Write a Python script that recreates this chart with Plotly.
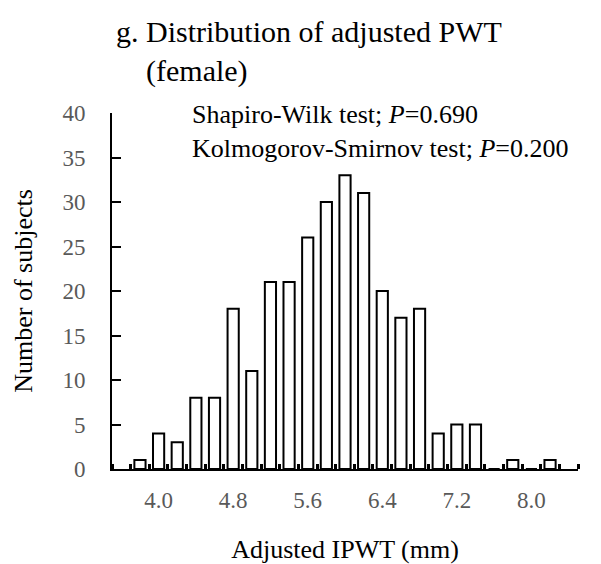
import plotly.graph_objects as go

# Data
bin_centers = [3.8, 4.0, 4.2, 4.4, 4.6, 4.8, 5.0, 5.2, 5.4, 5.6, 5.8, 6.0,
               6.2, 6.4, 6.6, 6.8, 7.0, 7.2, 7.4, 7.6, 7.8, 8.0, 8.2]
counts = [1, 4, 3, 8, 8, 18, 11, 21, 21, 26, 30, 33,
          31, 20, 17, 18, 4, 5, 5, 0, 1, 0, 1]
x_tick_vals = [4.0, 4.8, 5.6, 6.4, 7.2, 8.0]
x_tick_text = ["4.0", "4.8", "5.6", "6.4", "7.2", "8.0"]
y_tick_vals = [0, 5, 10, 15, 20, 25, 30, 35, 40]

FONT = "Liberation Serif, Times New Roman, serif"
W, H = 601, 564
L, R, T, B = 112, 23, 113, 95

fig = go.Figure()
fig.add_trace(go.Bar(
    x=bin_centers, y=counts,
    marker=dict(color="white", line=dict(color="black", width=2)),
    showlegend=False,
))

fig.update_layout(
    width=W, height=H,
    margin=dict(l=L, r=R, t=T, b=B, pad=0, autoexpand=False),
    paper_bgcolor="white", plot_bgcolor="white",
    bargap=0.4,
    font=dict(family=FONT, color="black"),
    title=dict(
        text="g. Distribution of adjusted PWT<br>\u00a0\u00a0\u00a0\u00a0(female)",
        font=dict(family=FONT, size=30, color="black"),
        x=116 / W, xref="container", xanchor="left",
        y=1 - 42 / H, yref="container", yanchor="top",
    ),
    xaxis=dict(
        range=[3.5, 8.5], automargin=False,
        tickmode="array", tickvals=x_tick_vals, ticktext=x_tick_text,
        ticks="", showgrid=False, zeroline=False,
        showline=True, linecolor="black", linewidth=2,
        tickfont=dict(family=FONT, size=23, color="#595959"),
        ticklabelstandoff=9,
        minor=dict(tickmode="linear", tick0=3.5, dtick=0.2, ticks="inside",
                   ticklen=5, tickwidth=3, tickcolor="black", showgrid=False),
        title=dict(text="Adjusted IPWT (mm)",
                   font=dict(family=FONT, size=26, color="black"), standoff=37),
    ),
    yaxis=dict(
        range=[0, 40], automargin=False, tickmode="array", tickvals=y_tick_vals,
        ticks="inside", ticklen=9, tickwidth=2, tickcolor="black",
        showgrid=False, zeroline=False,
        showline=True, linecolor="black", linewidth=2,
        tickfont=dict(family=FONT, size=23, color="#595959"),
        ticklabelstandoff=20,
        title=dict(text="Number of subjects",
                   font=dict(family=FONT, size=26, color="black"), standoff=22),
    ),
)

fig.add_annotation(
    text="Shapiro-Wilk test; <i>P</i>=0.690<br>Kolmogorov-Smirnov test; <i>P</i>=0.200",
    xref="paper", yref="paper",
    x=(190 - L) / (W - L - R), xanchor="left",
    y=1 - (131 - T) / (H - T - B), yanchor="middle",
    align="left", showarrow=False,
    font=dict(family=FONT, size=26, color="black"),
)

fig.write_html("out.html")
